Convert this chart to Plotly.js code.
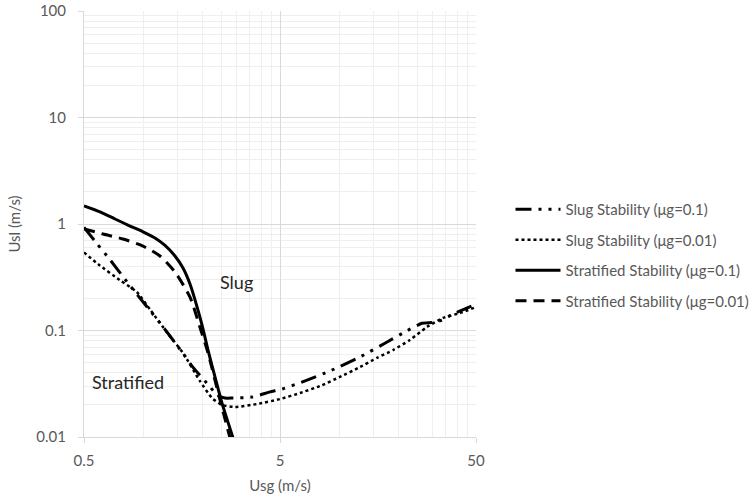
<!DOCTYPE html>
<html>
<head>
<meta charset="utf-8">
<script src="https://cdn.plot.ly/plotly-3.0.1.min.js"></script>
<style>html,body{margin:0;padding:0;background:#fff;}#chart{width:754px;height:498px;}</style>
</head>
<body>
<div id="chart"></div>
<script>
// Slug Stability (μg=0.1)
const slug01_x = [0.5, 0.58, 0.68, 0.83, 1.05, 1.22, 1.55, 1.8, 2.12, 2.39, 2.62, 2.84, 3.6, 4.45, 5.12, 6.47, 9.0, 12.8, 17.6, 21.7, 26.5, 30.0, 33.5, 38.2, 44.0, 48.5];
const slug01_y = [0.93, 0.66, 0.46, 0.285, 0.166, 0.118, 0.066, 0.045, 0.032, 0.0248, 0.0232, 0.0232, 0.0237, 0.0265, 0.0282, 0.0328, 0.0417, 0.0564, 0.078, 0.097, 0.117, 0.119, 0.125, 0.143, 0.16, 0.172];
// Slug Stability (μg=0.01)
const slug001_x = [0.5, 0.6, 0.76, 0.93, 1.09, 1.33, 1.6, 1.95, 2.25, 2.53, 2.95, 3.82, 5.0, 6.33, 8.0, 10.1, 12.8, 15.6, 18.9, 23.0, 28.1, 33.9, 41.4, 50];
const slug001_y = [0.54, 0.41, 0.298, 0.23, 0.156, 0.095, 0.0615, 0.0336, 0.0232, 0.02, 0.0191, 0.0204, 0.0227, 0.0259, 0.0301, 0.0366, 0.0454, 0.0552, 0.0656, 0.0815, 0.108, 0.131, 0.146, 0.166];
// Stratified Stability (μg=0.1)
const strat01_x = [0.5, 0.604, 0.72, 0.859, 1.0, 1.151, 1.295, 1.456, 1.6, 1.737, 1.863, 2.0, 2.146, 2.33, 2.53, 2.88];
const strat01_y = [1.48, 1.3, 1.114, 0.957, 0.845, 0.74, 0.63, 0.501, 0.386, 0.273, 0.181, 0.113, 0.0656, 0.0366, 0.0208, 0.0098];
// Stratified Stability (μg=0.01)
const strat001_x = [0.5, 0.625, 0.791, 1.0, 1.22, 1.456, 1.737, 1.95, 2.146, 2.47, 2.78];
const strat001_y = [0.9, 0.805, 0.723, 0.621, 0.501, 0.354, 0.206, 0.108, 0.0615, 0.0223, 0.0098];

const seriesNames = ["Slug Stability (μg=0.1)", "Slug Stability (μg=0.01)", "Stratified Stability (μg=0.1)", "Stratified Stability (μg=0.01)"];

const xTickVals = [0.5, 5, 50];
const xTickText = ["0.5", "5", "50"];
const yTickVals = [0.01, 0.1, 1, 10, 100];
const yTickText = ["0.01", "0.1", "1", "10", "100"];
const xMinorVals = [1, 1.5, 2, 2.5, 3, 3.5, 4, 4.5, 10, 15, 20, 25, 30, 35, 40, 45];
const yMinorVals = [];
[0.01, 0.1, 1, 10].forEach(d => { for (let k = 2; k <= 9; k++) yMinorVals.push(+(d * k).toPrecision(3)); });

const traces = [
  {x: slug01_x, y: slug01_y, name: seriesNames[0], legendgroup: 'a', mode: 'lines',
   line: {color: '#000', width: 3, dash: '16px,7px,3px,7px,3px,7px', shape: 'spline', smoothing: 0.5}},
  {x: slug001_x, y: slug001_y, name: seriesNames[1], legendgroup: 'b', mode: 'lines',
   line: {color: '#000', width: 2.5, dash: 'dot', shape: 'spline', smoothing: 0.5}},
  {x: strat01_x, y: strat01_y, name: seriesNames[2], legendgroup: 'c', mode: 'lines',
   line: {color: '#000', width: 3, shape: 'spline', smoothing: 0.6}},
  {x: strat001_x, y: strat001_y, name: seriesNames[3], legendgroup: 'd', mode: 'lines',
   line: {color: '#000', width: 3, dash: '11px,7px', shape: 'spline', smoothing: 0.6}}
];

const layout = {
  width: 754, height: 498,
  margin: {l: 84, r: 278, t: 11, b: 61, autoexpand: false},
  paper_bgcolor: '#fff', plot_bgcolor: '#fff',
  font: {family: 'Lato, "Open Sans", sans-serif', color: '#595959', size: 15},
  showlegend: true,
  legend: {x: 1.088, xanchor: 'left', y: 0.427, yanchor: 'middle', tracegroupgap: 8, itemwidth: 45,
           font: {size: 15, color: '#595959'}, bgcolor: 'rgba(0,0,0,0)'},
  xaxis: {type: 'log', range: [Math.log10(0.5), Math.log10(50)],
          tickmode: 'array', tickvals: xTickVals, ticktext: xTickText,
          showgrid: true, gridcolor: '#d9d9d9', gridwidth: 1,
          showline: true, linecolor: '#d9d9d9', linewidth: 1,
          ticks: 'outside', ticklen: 5, tickcolor: '#d9d9d9', ticklabelstandoff: 5,
          zeroline: false, tickfont: {size: 15, color: '#595959'},
          minor: {tickmode: 'array', tickvals: xMinorVals, showgrid: true, gridcolor: '#efefef', gridwidth: 1, ticks: ''},
          title: {text: 'Usg (m/s)', font: {size: 15, color: '#595959'}, standoff: 12}},
  yaxis: {type: 'log', range: [-2, 2],
          tickmode: 'array', tickvals: yTickVals, ticktext: yTickText,
          showgrid: true, gridcolor: '#d9d9d9', gridwidth: 1,
          showline: true, linecolor: '#d9d9d9', linewidth: 1,
          ticks: 'outside', ticklen: 5, tickcolor: '#d9d9d9', ticklabelstandoff: 9,
          zeroline: false, tickfont: {size: 15, color: '#595959'},
          minor: {tickmode: 'array', tickvals: yMinorVals, showgrid: true, gridcolor: '#efefef', gridwidth: 1, ticks: ''},
          title: {text: 'Usl (m/s)', font: {size: 15, color: '#595959'}, standoff: 12}},
  annotations: [
    {xref: 'paper', yref: 'paper', x: 0.39, y: 0.364, xanchor: 'center', yanchor: 'middle', text: 'Slug', showarrow: false,
     font: {size: 18, color: '#262626'}},
    {xref: 'paper', yref: 'paper', x: 0.112, y: 0.129, xanchor: 'center', yanchor: 'middle', text: 'Stratified', showarrow: false,
     font: {size: 18, color: '#262626'}}
  ]
};

Plotly.newPlot('chart', traces, layout, {displayModeBar: false, staticPlot: true});
</script>
</body>
</html>
